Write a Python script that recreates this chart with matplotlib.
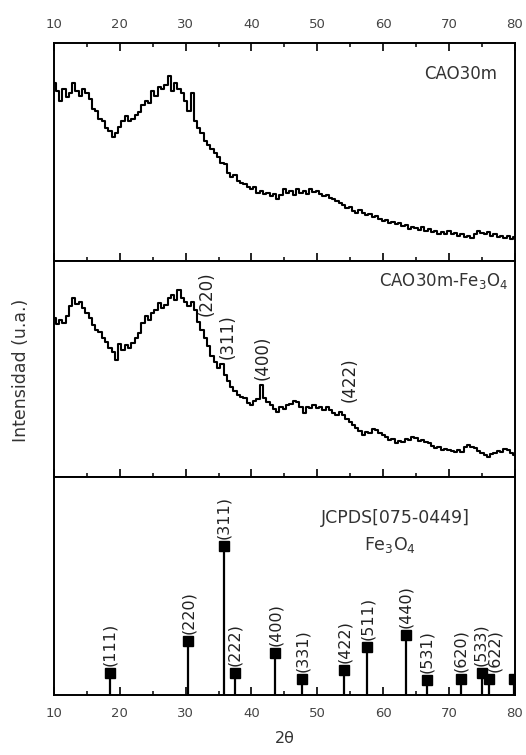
import numpy as np
import matplotlib
matplotlib.use("Agg")
import matplotlib.pyplot as plt

plt.rcParams['font.family'] = ['DejaVu Sans']
plt.rcParams['mathtext.default'] = 'regular'

# ---------------- data ----------------
two_theta = np.arange(10.0, 80.25, 0.5)

cao30m = [
    178, 170, 160, 172, 164, 168, 178, 170, 165, 172,
    168, 162, 152, 150, 142, 140, 133, 130, 124, 128,
    134, 140, 145, 140, 142, 146, 149, 156, 160, 158,
    170, 165, 174, 172, 176, 185, 170, 178, 172, 168,
    160, 150, 168, 140, 133, 128, 120, 116, 112, 108,
    104, 98, 97, 88, 84, 86, 80, 78, 77, 74,
    72, 74, 68, 70, 67, 68, 65, 67, 62, 66,
    72, 68, 70, 66, 72, 68, 70, 67, 72, 69,
    70, 67, 65, 66, 63, 62, 60, 58, 56, 53,
    54, 50, 48, 51, 48, 46, 47, 44, 45, 42,
    40, 41, 38, 39, 37, 38, 35, 36, 32, 34,
    33, 31, 34, 30, 32, 29, 30, 27, 29, 27,
    30, 27, 28, 25, 27, 24, 25, 23, 27, 30,
    28, 27, 29, 25, 27, 24, 25, 23, 25, 22,
    24,
]

cao30m_fe3o4 = [
    160, 154, 158, 155, 162, 172, 180, 174, 176, 170,
    165, 160, 153, 148, 146, 140, 136, 130, 126, 118,
    134, 128, 133, 130, 135, 140, 145, 155, 162, 158,
    165, 168, 175, 170, 173, 180, 183, 178, 188, 180,
    176, 172, 176, 168, 156, 148, 140, 132, 122, 116,
    110, 114, 102, 96, 90, 86, 82, 80, 79, 74,
    72, 76, 78, 92, 79, 75, 72, 68, 65, 70,
    68, 72, 73, 76, 75, 70, 64, 70, 69, 72,
    69, 70, 67, 70, 67, 64, 62, 65, 62, 58,
    55, 52, 49, 46, 42, 45, 44, 48, 47, 44,
    42, 40, 37, 38, 34, 36, 35, 38, 37, 40,
    39, 36, 37, 35, 34, 31, 29, 30, 27, 28,
    27, 26, 25, 27, 25, 30, 32, 30, 29, 26,
    24, 22, 20, 23, 24, 26, 25, 28, 27, 24,
    22,
]

mid_peak_labels = ['(220)', '(311)', '(400)', '(422)']
mid_peak_pos = [33.2, 36.4, 41.7, 54.9]
mid_peak_y = [162, 119, 97, 75]

ref_pos = [18.5, 30.4, 35.8, 37.5, 43.6, 47.7, 54.1, 57.6, 63.4, 66.6, 71.8, 75.0, 76.1, 79.9]
ref_int = [15, 36, 100, 15, 28, 11, 17, 32, 40, 10, 11, 15, 11, 11]
ref_hkl = ['(111)', '(220)', '(311)', '(222)', '(400)', '(331)', '(422)', '(511)',
           '(440)', '(531)', '(620)', '(533)', '(622)', '']

xticks = [10, 20, 30, 40, 50, 60, 70, 80]

# ---------------- figure ----------------
fig = plt.figure(figsize=(5.26, 7.55), dpi=100)
L, W = 0.1027, 0.876
ax1 = fig.add_axes([L, 0.6543, W, 0.2887])
ax2 = fig.add_axes([L, 0.3682, W, 0.2861])
ax3 = fig.add_axes([L, 0.0795, W, 0.2887])

tick_color = '#444444'
for ax in (ax1, ax2, ax3):
    ax.set_xlim(10, 80)
    ax.set_xticks(xticks)
    ax.set_xticks(np.arange(15, 80, 10), minor=True)
    ax.set_yticks([])
    for s in ax.spines.values():
        s.set_linewidth(1.4)
    ax.tick_params(axis='x', which='major', direction='in', length=6, width=1.2,
                   labelsize=9.5, labelcolor=tick_color, pad=8.5)
    ax.tick_params(axis='x', which='minor', direction='in', length=3, width=1.1)
    ax.tick_params(axis='x', which='both', top=False, bottom=True, labelbottom=False)

ax1.tick_params(axis='x', which='both', top=True, labeltop=True)
ax3.tick_params(axis='x', which='both', labelbottom=True)

# top panel
ax1.plot(two_theta, cao30m, color='black', lw=1.5, drawstyle='steps-mid')
ax1.set_ylim(0, 218)
ax1.text(0.961, 0.858, 'CAO30m', transform=ax1.transAxes, ha='right', va='center',
         fontsize=12, color='#333333')

# middle panel
ax2.plot(two_theta, cao30m_fe3o4, color='black', lw=1.5, drawstyle='steps-mid')
ax2.set_ylim(0, 217)
ax2.text(0.985, 0.908, 'CAO30m-Fe$_3$O$_4$', transform=ax2.transAxes, ha='right',
         va='center', fontsize=12, color='#333333')
for lab, xp, yp in zip(mid_peak_labels, mid_peak_pos, mid_peak_y):
    ax2.text(xp, yp, lab, rotation=90, ha='center', va='bottom', fontsize=12,
             color='#222222')

# bottom panel
ax3.set_ylim(0, 146)
ax3.vlines(ref_pos, 0, ref_int, color='black', lw=1.6)
ax3.plot(ref_pos, ref_int, 's', color='black', markersize=7)
for lab, xp, yp in zip(ref_hkl, ref_pos, ref_int):
    if lab:
        dx = 4 if lab == '(622)' else (-1 if lab == '(533)' else 0)
        ax3.annotate(lab, (xp, yp), xytext=(dx, 5), textcoords='offset points',
                     rotation=90, ha='center', va='bottom', fontsize=11.5, color='#222222')
ax3.text(0.74, 0.81, 'JCPDS[075-0449]', transform=ax3.transAxes, ha='center',
         va='center', fontsize=12.5, color='#333333')
ax3.text(0.73, 0.69, 'Fe$_3$O$_4$', transform=ax3.transAxes, ha='center',
         va='center', fontsize=12.5, color='#333333')
ax3.set_xlabel('2θ', fontsize=11.5, color='#333333', labelpad=8)

fig.text(0.04, 0.51, 'Intensidad (u.a.)', rotation=90, ha='center', va='center',
         fontsize=12.5, color='#333333')

fig.savefig('out.png', dpi=100)
